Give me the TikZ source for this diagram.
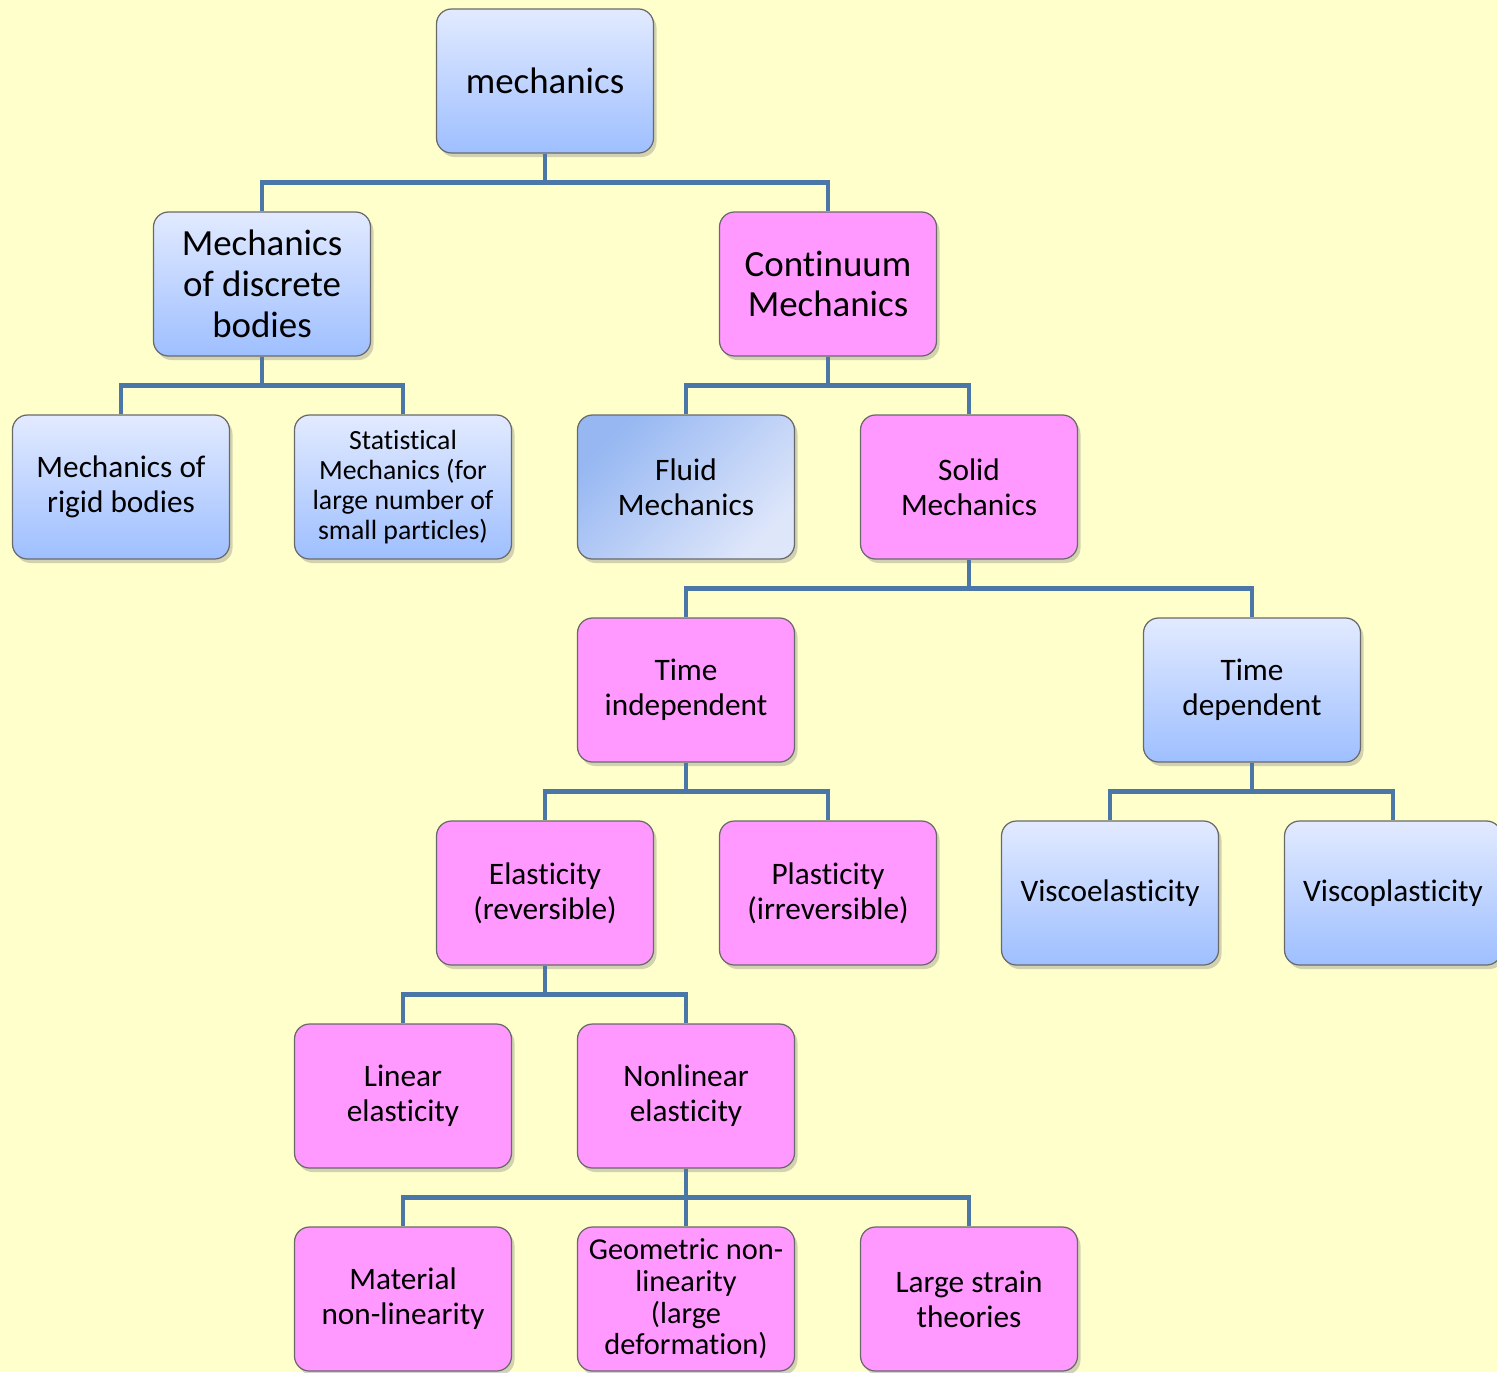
\documentclass[tikz,border=0pt]{standalone}
\usepackage{fontspec}
\setmainfont{Carlito}[Ligatures=CommonOff]
\usetikzlibrary{positioning, shadows}

\definecolor{paper}{RGB}{255,255,204}
\definecolor{linkblue}{RGB}{74,118,168}
\definecolor{boxpink}{RGB}{255,153,255}
\definecolor{bluetop}{RGB}{226,234,255}
\definecolor{bluebot}{RGB}{158,191,255}
\definecolor{fluiddark}{RGB}{150,183,242}
\definecolor{fluidlight}{RGB}{222,230,250}
\definecolor{edgegray}{RGB}{105,105,105}

\tikzset{
    box/.style={rounded corners=0.3cm, draw=edgegray, line width=0.7pt,
        minimum width=4.34cm, minimum height=2.88cm, align=center,
        font=\fontsize{17.8}{19.8}\selectfont,
        drop shadow={opacity=0.35, shadow xshift=0.06cm, shadow yshift=-0.08cm}},
    bluebox/.style={box, top color=bluetop, bottom color=bluebot},
    pinkbox/.style={box, fill=boxpink},
    bigtext/.style={font=\fontsize{21}{23.2}\selectfont},
    smalltext/.style={font=\fontsize{15.8}{17}\selectfont},
    tighttext/.style={font=\fontsize{17.3}{18}\selectfont},
    link/.style={draw=linkblue, line width=2.8pt}
}

\begin{document}
\begin{tikzpicture}

    \fill[paper] (0,0) rectangle (29.94,-27.44);
    \useasboundingbox (0,0) rectangle (29.94,-27.44);

    % top levels
    \node[bluebox, bigtext] (mech) at (10.9,-1.62) {mechanics};
    \node[bluebox, bigtext] (discrete) at (5.24,-5.68) {Mechanics\\of discrete\\bodies};
    \node[pinkbox, bigtext] (continuum) at (16.56,-5.68) {Continuum\\Mechanics};

    \node[bluebox] (rigid) at (2.42,-9.74) {Mechanics of\\rigid bodies};
    \node[bluebox, smalltext] (stat) at (8.06,-9.74) {Statistical\\Mechanics (for\\large number of\\small particles)};
    \node[box, top color=fluiddark, bottom color=fluidlight, shading angle=45] (fluid) at (13.72,-9.74) {Fluid\\Mechanics};
    \node[pinkbox] (solid) at (19.38,-9.74) {Solid\\Mechanics};

    \node[pinkbox] (tindep) at (13.72,-13.8) {Time\\independent};
    \node[bluebox] (tdep) at (25.04,-13.8) {Time\\dependent};

    \node[pinkbox] (elastic) at (10.9,-17.86) {Elasticity\\(reversible)};
    \node[pinkbox] (plastic) at (16.56,-17.86) {Plasticity\\(irreversible)};
    \node[bluebox] (viscoel) at (22.2,-17.86) {Viscoelasticity};
    \node[bluebox] (viscopl) at (27.86,-17.86) {Viscoplasticity};

    \node[pinkbox] (linear) at (8.06,-21.92) {Linear\\elasticity};
    \node[pinkbox] (nonlinear) at (13.72,-21.92) {Nonlinear\\elasticity};

    \node[pinkbox] (material) at (8.06,-25.98) {Material\\non-linearity};
    \node[pinkbox, tighttext] (geometric) at (13.72,-25.98) {Geometric non-\\linearity\\(large\\deformation)};
    \node[pinkbox] (largestrain) at (19.38,-25.98) {Large strain\\theories};

    % connectors
    \foreach \parent/\child in {mech/discrete, mech/continuum,
            discrete/rigid, discrete/stat, continuum/fluid, continuum/solid,
            solid/tindep, solid/tdep, tindep/elastic, tindep/plastic,
            tdep/viscoel, tdep/viscopl, elastic/linear, elastic/nonlinear,
            nonlinear/material, nonlinear/geometric, nonlinear/largestrain}
        \draw[link] (\parent.south) -- ++(0,-0.58) -| (\child.north);

\end{tikzpicture}
\end{document}
